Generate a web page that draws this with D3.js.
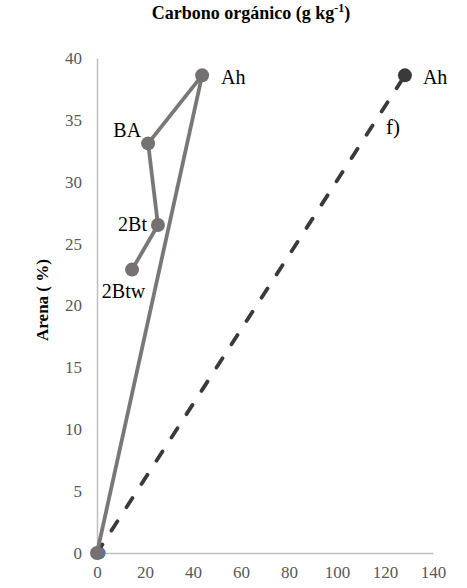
<!DOCTYPE html>
<html><head><meta charset="utf-8">
<script src="https://cdn.jsdelivr.net/npm/d3@7"></script>
<style>body{margin:0;background:#fff}</style>
</head><body>
<svg id="c" width="467" height="588"></svg>
<script>
const horizons = ["", "Ah", "BA", "2Bt", "2Btw"];
const carbono = [0, 43.8, 21.3, 25.4, 14.6];
const arena = [0, 38.6, 33.1, 26.5, 22.9];
const horizons2 = ["", "Ah"];
const carbono2 = [0, 128.3];
const arena2 = [0, 38.6];
const xTicks = [0, 20, 40, 60, 80, 100, 120, 140];
const yTicks = [0, 5, 10, 15, 20, 25, 30, 35, 40];

const svg = d3.select("#c");
const x = d3.scaleLinear().domain([0, 140]).range([97, 433]);
const y = d3.scaleLinear().domain([0, 40]).range([553, 58]);
const serif = "'Liberation Serif', 'Times New Roman', serif";

// axes
const xa = svg.append("g").attr("transform", "translate(0,553)")
  .call(d3.axisBottom(x).tickValues(xTicks).tickSize(0).tickPadding(13));
const ya = svg.append("g").attr("transform", "translate(97,0)")
  .call(d3.axisLeft(y).tickValues(yTicks).tickSize(0).tickPadding(15));
[xa, ya].forEach(a => {
  a.attr("font-family", null).attr("font-size", null);
  a.select(".domain").attr("stroke", "#bfbfbf").attr("stroke-width", 1.5);
  a.selectAll("text").style("font-family", serif).style("font-size", "17px").attr("fill", "#595959");
});

// title
const t = svg.append("text").attr("x", 251).attr("y", 19).attr("text-anchor", "middle")
  .style("font-family", serif).style("font-weight", "bold").style("font-size", "18px").attr("fill", "#000");
t.append("tspan").text("Carbono orgánico (g kg");
t.append("tspan").attr("dy", -7).style("font-size", "12px").text("-1");
t.append("tspan").attr("dy", 7).text(")");

svg.append("text").attr("transform", "translate(48,300) rotate(-90)").attr("text-anchor", "middle")
  .style("font-family", serif).style("font-weight", "bold").style("font-size", "17px").text("Arena ( %)");

// blue hidden point
svg.append("circle").attr("cx", x(0.9)).attr("cy", y(0)).attr("r", 6.5)
  .attr("fill", "#4472c4");

// dashed series
const d2 = carbono2.map((c, i) => [c, arena2[i]]);
svg.append("path").attr("d", d3.line().x(d => x(d[0])).y(d => y(d[1]))(d2))
  .attr("fill", "none").attr("stroke", "#3a3a3a").attr("stroke-width", 3.8)
  .attr("stroke-linecap", "round")
  .attr("stroke-dasharray", "11,16.7").attr("stroke-dashoffset", 1);
svg.append("circle").attr("cx", x(carbono2[1])).attr("cy", y(arena2[1])).attr("r", 7).attr("fill", "#3a3a3a");

// solid series
const d1 = carbono.map((c, i) => [c, arena[i]]);
svg.append("path").attr("d", d3.line().x(d => x(d[0])).y(d => y(d[1]))(d1))
  .attr("fill", "none").attr("stroke", "#7a7777").attr("stroke-width", 3.8).attr("stroke-linejoin", "round");
svg.selectAll("circle.s1").data(d1).enter().append("circle").attr("class", "s1")
  .attr("cx", d => x(d[0])).attr("cy", d => y(d[1])).attr("r", 7).attr("fill", "#767171");

// labels
const lab = [
  {t: horizons[1], x: carbono[1], y: arena[1], dx: 19, dy: 9, a: "start"},
  {t: horizons[2], x: carbono[2], y: arena[2], dx: -7, dy: -6, a: "end"},
  {t: horizons[3], x: carbono[3], y: arena[3], dx: -11, dy: 6, a: "end"},
  {t: horizons[4], x: carbono[4], y: arena[4], dx: -8.5, dy: 28, a: "middle"},
  {t: horizons2[1], x: carbono2[1], y: arena2[1], dx: 18, dy: 9, a: "start"}
];
svg.selectAll("text.lab").data(lab).enter().append("text").attr("class", "lab")
  .attr("x", d => x(d.x) + d.dx).attr("y", d => y(d.y) + d.dy).attr("text-anchor", d => d.a)
  .style("font-family", serif).style("font-size", "20px").attr("fill", "#000").text(d => d.t);
svg.append("text").attr("x", 386).attr("y", 134).style("font-family", serif).style("font-size", "21px").text("f)");
</script>
</body></html>
